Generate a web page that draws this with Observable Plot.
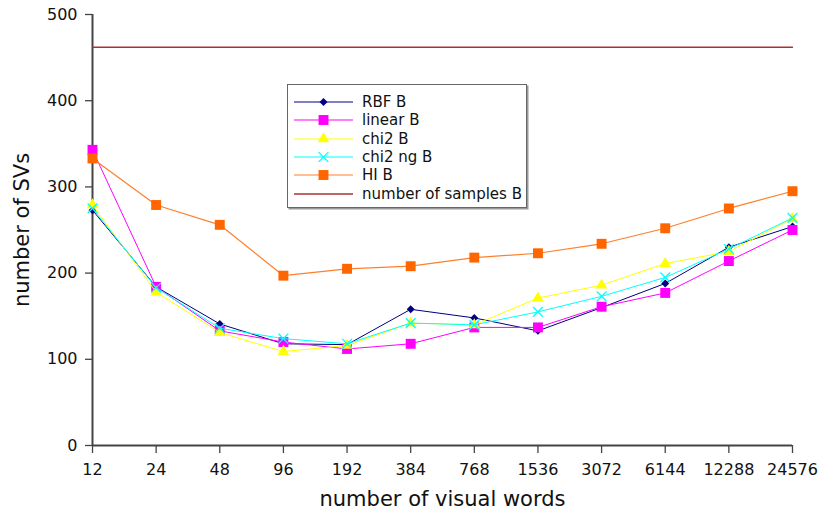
<!DOCTYPE html>
<html>
<head>
<meta charset="utf-8">
<script src="https://cdn.jsdelivr.net/npm/d3@7"></script>
<script src="https://cdn.jsdelivr.net/npm/@observablehq/plot@0.6"></script>
<style>
  html, body { margin: 0; padding: 0; background: #fff; }
  #wrap { position: relative; width: 821px; height: 513px; font-family: "DejaVu Sans", sans-serif; }
  #legend { position: absolute; left: 287px; top: 84px; width: 238px; height: 122px;
            border: 1.5px solid #666; box-shadow: 1.5px 1.5px 0 #999; background: #fff; }
  .row { position: absolute; left: 6px; height: 18px; display: flex; align-items: center; }
  .row span { font-size: 15px; color: #111; margin-left: 8px; white-space: nowrap; }
</style>
</head>
<body>
<div id="wrap"></div>
<script>
const words = ["12","24","48","96","192","384","768","1536","3072","6144","12288","24576"];
const rbf     = [273, 184, 141, 118, 117, 158, 148, 133, 160, 188, 230, 254];
const linear  = [343, 184, 133, 120, 112, 118, 137, 137, 161, 177, 214, 250];
const chi2    = [279, 178, 131, 109, 116, 142, 140, 171, 186, 211, 225, 263];
const chi2ng  = [275, 183, 136, 124, 118, 142, 140, 155, 173, 195, 228, 264];
const hi      = [333, 279, 256, 197, 205, 208, 218, 223, 234, 252, 275, 295];
const samples = [462, 462, 462, 462, 462, 462, 462, 462, 462, 462, 462, 462];
const yTicks = [0, 100, 200, 300, 400, 500];

const seriesDefs = [
  {name: "RBF B", values: rbf, line: "#000080", fill: "#000080", symbol: "diamond2", r: 3.6, sw: 1},
  {name: "linear B", values: linear, line: "#ff00ff", fill: "#ff00ff", symbol: "square", r: 5.6, sw: 1},
  {name: "chi2 B", values: chi2, line: "#ffff00", fill: "#ffff00", symbol: "triangle", r: 4.3, sw: 1},
  {name: "chi2 ng B", values: chi2ng, line: "#00ffff", fill: "none", stroke: "#00ffff", symbol: "times", r: 4.5, sw: 1},
  {name: "HI B", values: hi, line: "#ff7f2a", fill: "#ff6600", symbol: "square", r: 5.6, sw: 1.2},
  {name: "number of samples B", values: samples, line: "#a83232", symbol: null, sw: 1.3}
];

const rows = seriesDefs.map(s => s.values.map((v, i) => ({x: words[i], y: v, series: s.name})));

const marks = [
  Plot.ruleY([0], {stroke: "#444", strokeWidth: 2}),
  Plot.ruleX([words[0]], {stroke: "#444", strokeWidth: 2}),
  Plot.axisX({tickSize: 8, tickPadding: 10, fontSize: 16, stroke: "#444", strokeWidth: 1.3, label: null, fill: "#111"}),
  Plot.axisY({ticks: yTicks, tickSize: 7, tickPadding: 8, fontSize: 16, stroke: "#444", strokeWidth: 1.3, label: null, fill: "#111"})
];
seriesDefs.forEach((s, k) => {
  marks.push(Plot.line(rows[k], {x: "x", y: "y", stroke: s.line, strokeWidth: s.sw}));
  if (s.symbol) {
    marks.push(Plot.dot(rows[k], {x: "x", y: "y", symbol: () => s.symbol, r: s.r,
      fill: s.fill, stroke: s.stroke || "none", strokeWidth: s.stroke ? 1.3 : 0}));
  }
});
marks.push(Plot.text(["number of visual words"], {frameAnchor: "bottom", text: d => d, textAnchor: "middle", lineAnchor: "bottom", dy: 60, fontSize: 21, fill: "#111"}));
marks.push(Plot.text(["number of SVs"], {frameAnchor: "left", text: d => d, textAnchor: "middle", lineAnchor: "middle", rotate: -90, dx: -70, fontSize: 21, fill: "#111"}));

const chart = Plot.plot({
  width: 821, height: 513,
  marginLeft: 92, marginRight: 29, marginTop: 14, marginBottom: 68,
  style: {fontFamily: "DejaVu Sans, sans-serif", fontSize: "16px", background: "#fff", overflow: "visible"},
  x: {type: "point", domain: words, padding: 0, round: false},
  y: {domain: [0, 500]},
  marks
});
const wrap = document.getElementById("wrap");
wrap.appendChild(chart);

// legend
const legend = document.createElement("div");
legend.id = "legend";
seriesDefs.forEach((s, i) => {
  const row = document.createElement("div");
  row.className = "row";
  row.style.top = (8 + i * 18.3) + "px";
  const sv = d3.create("svg").attr("width", 60).attr("height", 18);
  sv.append("line").attr("x1", 0).attr("x2", 59).attr("y1", 9).attr("y2", 9)
    .attr("stroke", s.line).attr("stroke-width", s.sw);
  if (s.symbol) {
    const symMap = {diamond2: d3.symbolDiamond2, square: d3.symbolSquare, triangle: d3.symbolTriangle, times: d3.symbolTimes};
    sv.append("path").attr("transform", "translate(29.5,9)")
      .attr("d", d3.symbol(symMap[s.symbol], Math.PI * s.r * s.r)())
      .attr("fill", s.fill).attr("stroke", s.stroke || "none").attr("stroke-width", s.stroke ? 1.3 : 0);
  }
  row.appendChild(sv.node());
  const t = document.createElement("span");
  t.textContent = s.name;
  row.appendChild(t);
  legend.appendChild(row);
});
wrap.appendChild(legend);
</script>
</body>
</html>
